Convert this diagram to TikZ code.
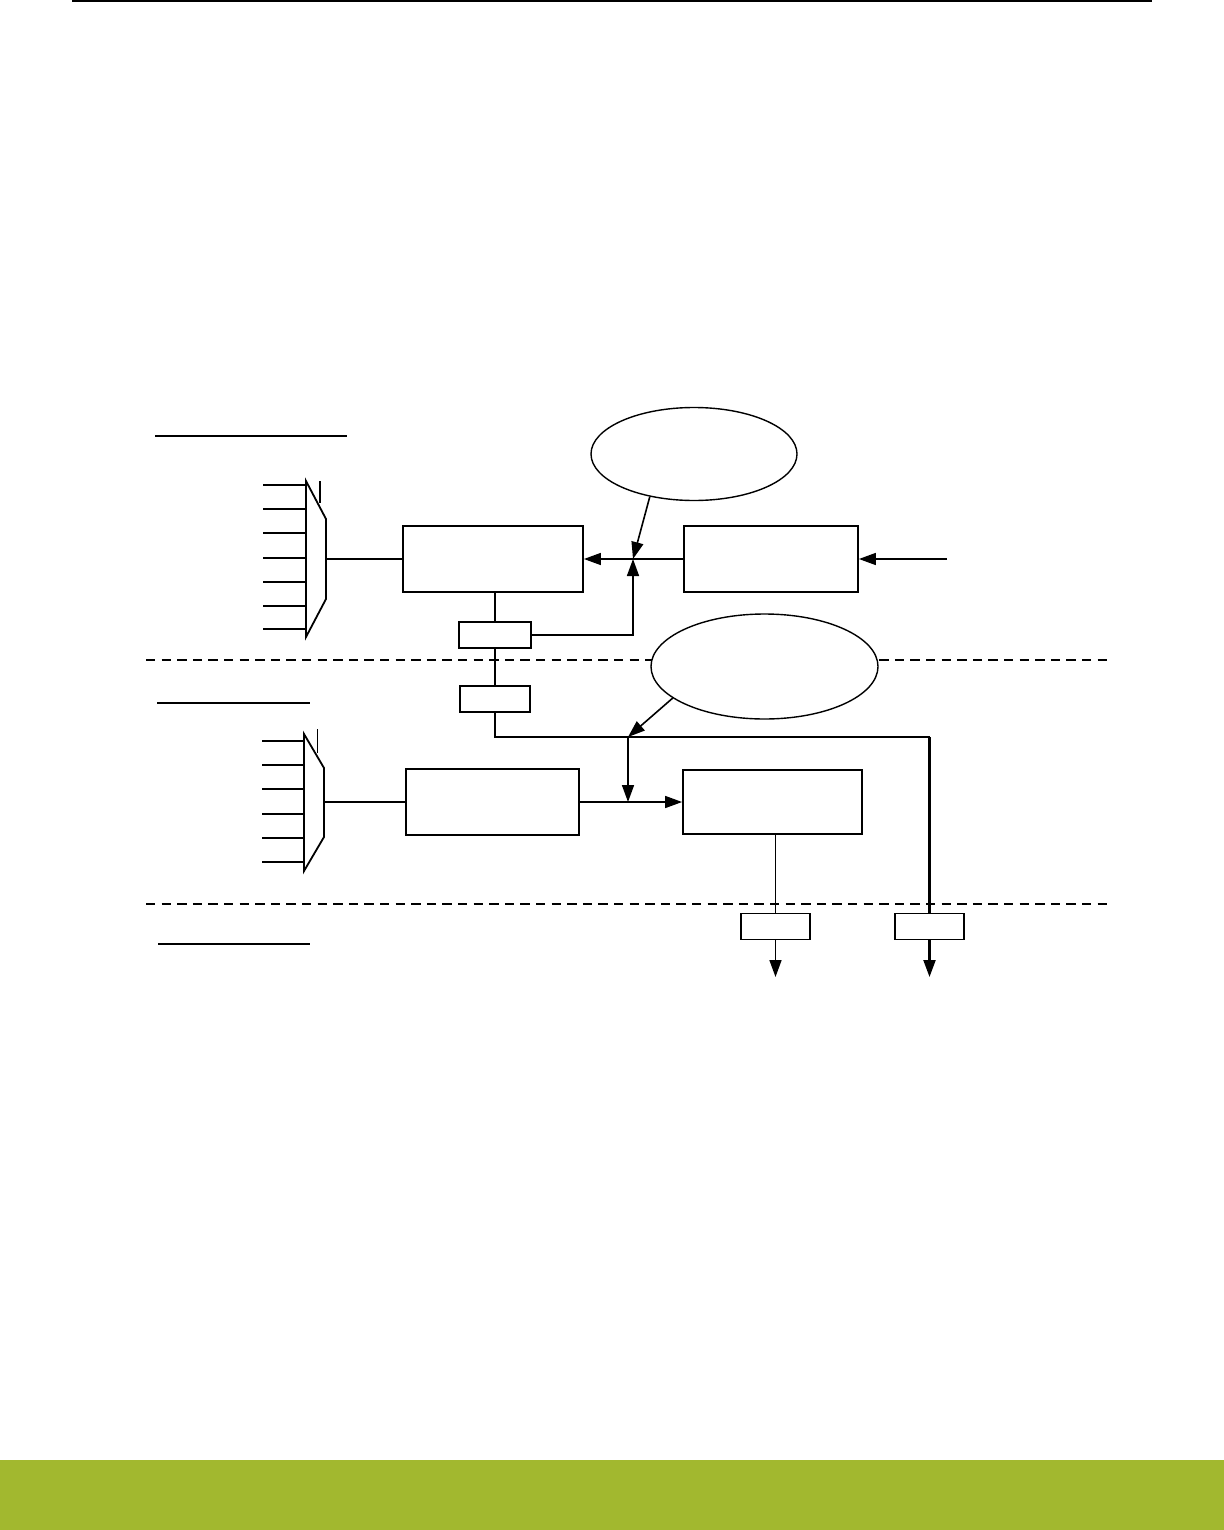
\documentclass[tikz,border=0pt]{standalone}
\usetikzlibrary{positioning,arrows.meta,calc,shapes.geometric}
\definecolor{ink}{HTML}{000000}
\definecolor{band}{HTML}{A2B82F}

\begin{document}
\begin{tikzpicture}[
    x=0.5pt, y=-0.5pt, line width=0.8pt, draw=ink,
    >={Triangle[length=8.5pt,width=6pt]},
    blk/.style={draw=ink, fill=white, line width=0.9pt, inner sep=0pt,
                minimum width=#1},
    bigblk/.style={blk=#1, minimum height=33pt},
    regblk/.style={blk=#1, minimum height=13pt},
    cloud/.style={ellipse, draw=ink, fill=white, line width=0.7pt, inner sep=0pt},
    arr/.style={->, line width=0.8pt, draw=ink},
    wire/.style={line width=0.8pt, draw=ink},
    lane/.style={dashed, dash pattern=on 4.7pt off 3.1pt, line width=1.1pt, draw=ink},
    uline/.style={line width=#1, draw=ink},
  ]
  \useasboundingbox (0,0) rectangle (1224,1530);

  % ---- page frame
  \draw[line width=1pt] (72,1) -- (1152,1);
  \fill[band] (0,1460) rectangle (1224,1530);

  % ---- lane separators and headings
  \draw[lane] (146,660) -- (1107,660);
  \draw[lane] (146,904) -- (1113,904);
  \draw[uline=0.8pt] (155,436) -- (347,436);
  \draw[uline=0.8pt] (157,703) -- (310,703);
  \draw[uline=1.1pt] (158,944) -- (310,944);

  % ---- upper lane
  \draw[line width=0.9pt, fill=white] (306,481) -- (326,519) -- (326,599) -- (306,637) -- cycle;
  \draw (320,481) -- (320,503);
  \foreach \y in {485,509,533,558,582,606,629}
    \draw (263,\y) -- (306,\y);
  \coordinate (mux1out) at (326,559);

  \node[bigblk=90pt] (box1) at (493,559) {};
  \node[bigblk=87pt] (box2) at (771,559) {};
  \node[regblk=36pt] (regA) at (495,635) {};
  \node[cloud, minimum width=103pt, minimum height=46.5pt] (ell1) at (694,454) {};
  \coordinate (j1) at (633,559);
  \coordinate (inR) at (947,559);

  \draw[wire] (mux1out) -- (box1.west);
  \draw[arr] (box2.west) -- (box1.east);
  \draw[arr] (inR) -- (box2.east);
  \draw[arr] (ell1.224) -- (j1);
  \draw[arr] (regA.east) -| (j1);
  \draw[wire] (regA.north) -- (regA.north |- box1.south);

  % ---- middle lane
  \draw[line width=0.9pt, fill=white] (304,734) -- (324,768) -- (324,837) -- (304,871) -- cycle;
  \draw (317.5,729) -- (317.5,753);
  \foreach \y in {741,765,789,814,838,862}
    \draw (262,\y) -- (304,\y);
  \coordinate (mux2out) at (324,802);

  \node[regblk=35pt] (regB) at (495,699) {};
  \node[bigblk=86.5pt] (box3) at (492.5,802) {};
  \node[bigblk=89.5pt, minimum height=32pt] (box4) at (772.5,802) {};
  \node[regblk=34.5pt] (regC) at (775.5,926.5) {};
  \node[regblk=34.5pt] (regD) at (929.5,926.5) {};
  \coordinate (j2) at (628,737);
  \coordinate (j3) at (628,802);
  \coordinate (outC) at (775.5,977);
  \coordinate (outD) at (929.5,977);

  \draw[wire] (regA) -- (regB);
  \draw[wire] (regB.south) -- (regB.south |- j2) -- (j2);
  \draw[wire] (j2) -| (regD.north);
  \draw[wire, line width=1.1pt] (regD.north |- j2) -- (regD.north);
  \draw[arr] (j2) -- (j3);
  \draw[wire] (mux2out) -- (box3.west);
  \draw[arr] (box3.east) -- (box4.west);
  \draw[wire] (regC.north) -- (regC.north |- box4.south);
  \draw[arr] (regC.south) -- (outC);
  \draw[arr, line width=1.1pt] (regD.south) -- (outD);

  % the second note sits on the lane separator
  \node[cloud, minimum width=113.5pt, minimum height=52.5pt] (ell2) at (764.5,666.5) {};
  \draw[arr] (ell2.199) -- (j2);
\end{tikzpicture}
\end{document}
